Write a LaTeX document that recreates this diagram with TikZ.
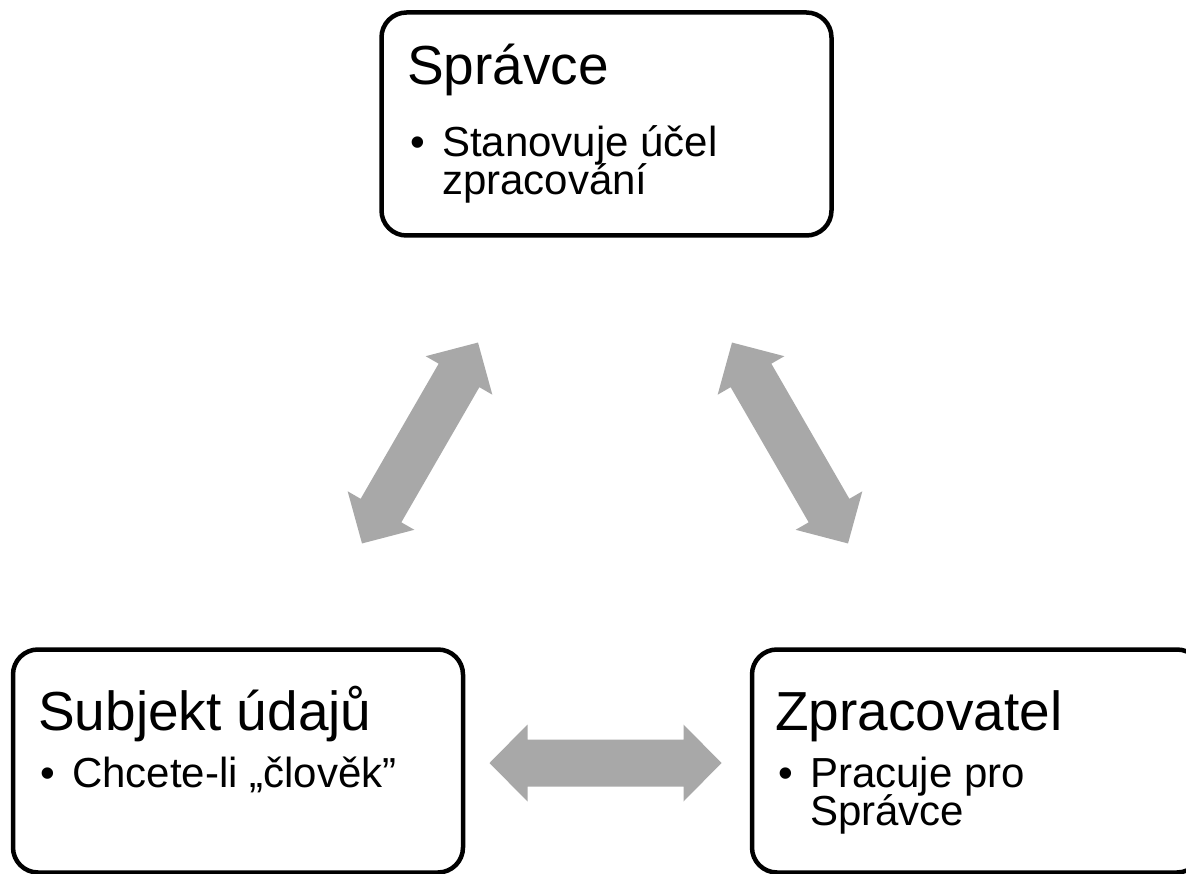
\documentclass[tikz,border=0pt]{standalone}
\usepackage{fontspec}
\setmainfont{Liberation Sans}
\definecolor{arrowgray}{HTML}{A8A8A8}
\begin{document}
\begin{tikzpicture}[x=1pt,y=-1pt,
  box/.style={draw=black, line width=4.5pt, rounded corners=25pt, minimum width=450pt, minimum height=223pt, inner sep=0pt},
  title/.style={anchor=base west, inner sep=0pt, font=\fontsize{55}{60}\selectfont},
  item/.style={anchor=base west, inner sep=0pt, font=\fontsize{42}{38}\selectfont},
  dbl/.pic={\fill[arrowgray] (-116,0) -- (-78,-38.5) -- (-78,-23.5) -- (78,-23.5) -- (78,-38.5) -- (116,0) -- (78,38.5) -- (78,23.5) -- (-78,23.5) -- (-78,38.5) -- cycle;}]
\useasboundingbox (0,0) rectangle (1186,874);
% boxes
\node[box] (spr) at (606.5,124) {};
\node[box] (sub) at (238,761) {};
\node[box] (zpr) at (977,761) {};
% texts Spravce
\node[title] (sprT) at (407,85) {Správce};
\node[item] (sprB) at (410,157) {•};
\node[item] (sprL1) at (442,157) {Stanovuje účel};
\node[item] (sprL2) at (442,195) {zpracování};
% texts Subjekt
\node[title] (subT) at (38,730) {Subjekt údajů};
\node[item] (subB) at (40,787) {•};
\node[item] (subL1) at (72,787) {Chcete-li „člověk”};
% texts Zpracovatel
\node[title] (zprT) at (775,730) {Zpracovatel};
\node[item] (zprB) at (778,787) {•};
\node[item] (zprL1) at (810,787) {Pracuje pro};
\node[item] (zprL2) at (810,825) {Správce};
% arrows
\pic (a1) [rotate=60] at (420,443) {dbl};
\pic (a2) [rotate=-60] at (790,443) {dbl};
\pic (a3) at (605.5,763) {dbl};
\end{tikzpicture}
\end{document}
